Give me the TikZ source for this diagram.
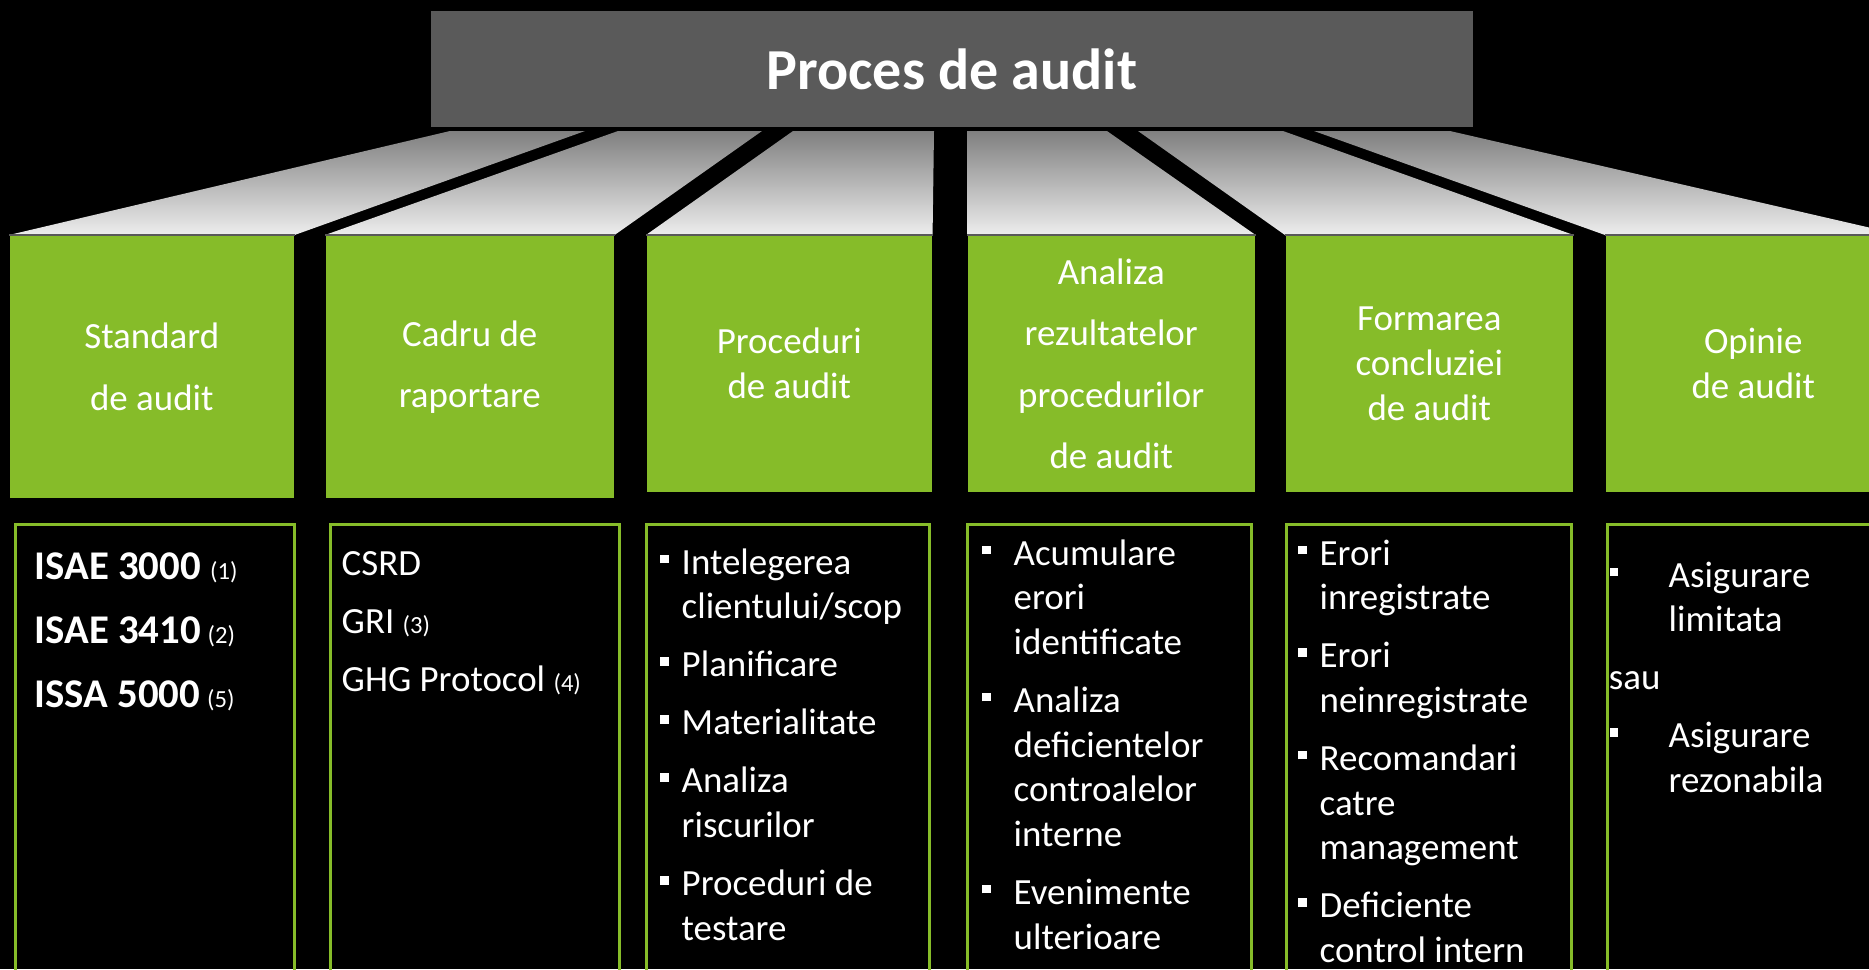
\documentclass[tikz,border=0pt]{standalone}
\usepackage{fontspec}
\setmainfont{Carlito}
\setlength{\parindent}{0pt}
\definecolor{audgreen}{RGB}{134,188,41}
\definecolor{titlegray}{RGB}{90,90,90}
\newcommand\sqbul[1][3.7pt]{\leavevmode\llap{\rule[3.1pt]{2.4pt}{2.4pt}\hspace{#1}}}
\newcommand\fnum[1]{{\fontsize{7}{8}\mdseries\selectfont(#1)}}

\tikzset{
  hdr/.style={fill=audgreen, text=white, inner sep=0pt, align=center,
    anchor=north west, font=\fontsize{10.5}{17.4}\selectfont},
  hdrtight/.style={hdr, font=\fontsize{10.5}{12.8}\selectfont},
  listbox/.style={draw=audgreen, line width=0.85pt, anchor=north west,
    inner sep=0pt},
  listtext/.style={text=white, anchor=base west, inner sep=0pt,
    text width=5cm, align=flush left, font=\fontsize{10.5}{12.7}\selectfont}
}

\begin{document}
\begin{tikzpicture}[x=0.01cm, y=-0.01cm]
    \useasboundingbox (0,0) rectangle (1869,969);
    \clip (0,0) rectangle (1869,969);
    \fill[black] (0,0) rectangle (1869,969);

    % title
    \node[fill=titlegray, minimum width=10.41cm, minimum height=1.15cm,
        inner sep=0pt, text=white, font=\fontsize{16.5}{20}\bfseries\selectfont]
        (title) at (952,69) {Proces de audit};

    % green headers
    \node[hdr, minimum width=2.84cm, minimum height=2.62cm] (h1) at (9,235)
        {Standard\\ de audit};
    \node[hdr, minimum width=2.88cm, minimum height=2.62cm] (h2) at (325,235)
        {Cadru de\\ raportare};
    \node[hdrtight, minimum width=2.85cm, minimum height=2.56cm] (h3) at (646,235)
        {Proceduri\\ de audit};
    \node[hdr, minimum width=2.87cm, minimum height=2.56cm] (h4) at (967,235)
        {Analiza\\ rezultatelor\\ procedurilor\\ de audit};
    \node[hdrtight, minimum width=2.87cm, minimum height=2.56cm] (h5) at (1285,235)
        {Formarea\\ concluziei\\ de audit};
    \node[hdrtight, minimum width=2.95cm, minimum height=2.56cm] (h6) at (1605,235)
        {Opinie\\ de audit};

    % slanted tops
    \foreach \i/\a/\b in {1/450/585, 2/618/762, 3/793/934, 4/967/1107,
                          5/1138/1283, 6/1314/1450} {
        \shade[top color=black!50, bottom color=black!7]
            (\a,131) -- (\b,131) -- (h\i.north east) -- (h\i.north west) -- cycle;
        \draw[black!65, line width=0.4pt] (h\i.north west) -- (h\i.north east);
    }

    % lower boxes
    \node[listbox, minimum width=2.79cm, minimum height=4.7cm] (b1) at (14,523) {};
    \node[listbox, minimum width=2.89cm, minimum height=4.7cm] (b2) at (329,523) {};
    \node[listbox, minimum width=2.83cm, minimum height=4.7cm] (b3) at (645,523) {};
    \node[listbox, minimum width=2.84cm, minimum height=4.7cm] (b4) at (966,523) {};
    \node[listbox, minimum width=2.85cm, minimum height=4.7cm] (b5) at (1285,523) {};
    \node[listbox, minimum width=2.95cm, minimum height=4.7cm] (b6) at (1606,523) {};

    \node[listtext, font=\fontsize{11.6}{18.2}\bfseries\selectfont] (t1) at (34,579)
        {ISAE 3000 \fnum{1}\\ ISAE 3410\,\fnum{2}\\ ISSA 5000\,\fnum{5}};
    \node[listtext, font=\fontsize{10.5}{16.5}\selectfont] (t2) at (341,575)
        {CSRD\\ GRI \fnum{3}\\ GHG Protocol \fnum{4}};
    \node[listtext] (t3) at (681,574)
        {\sqbul Intelegerea\\ clientului/scop\\[3.8pt]
         \sqbul Planificare\\[3.8pt]
         \sqbul Materialitate\\[3.8pt]
         \sqbul Analiza\\ riscurilor\\[3.8pt]
         \sqbul Proceduri de\\ testare};
    \node[listtext] (t4) at (1013,565)
        {\sqbul[6.5pt]Acumulare\\ erori\\ identificate\\[3.8pt]
         \sqbul[6.5pt]Analiza\\ deficientelor\\ controalelor\\ interne\\[3.8pt]
         \sqbul[6.5pt]Evenimente\\ ulterioare};
    \node[listtext] (t5) at (1319,565)
        {\sqbul Erori\\ inregistrate\\[3.8pt]
         \sqbul Erori\\ neinregistrate\\[3.8pt]
         \sqbul Recomandari\\ catre\\ management\\[3.8pt]
         \sqbul Deficiente\\ control intern};
    \node[listtext] (t6) at (1668,587)
        {\sqbul[14.4pt]Asigurare\\ limitata\\[3.8pt]
         \hspace*{-17pt}sau\\[3.8pt]
         \sqbul[14.4pt]Asigurare\\ rezonabila};
\end{tikzpicture}
\end{document}
